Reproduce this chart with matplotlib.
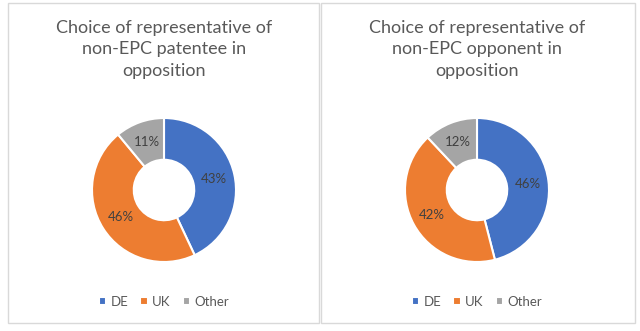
import matplotlib
matplotlib.use("Agg")
import matplotlib.pyplot as plt
from matplotlib.patches import Rectangle
import numpy as np

plt.rcParams['font.family'] = ['Lato', 'DejaVu Sans']

categories = ["DE", "UK", "Other"]
patentee = [43, 46, 11]
opponent = [46, 42, 12]
titles = ["Choice of representative of\nnon-EPC patentee in\nopposition",
          "Choice of representative of\nnon-EPC opponent in\nopposition"]
colors = ["#4472C4", "#ED7D31", "#A5A5A5"]

W, H = 640, 331
fig = plt.figure(figsize=(W / 100, H / 100), dpi=100)
fig.patch.set_facecolor("white")

# panel borders
for x0, x1 in [(8, 319), (321, 635)]:
    fig.patches.append(Rectangle((x0 / W, 1 - 323 / H), (x1 - x0) / W, 320 / H,
                                 transform=fig.transFigure, fill=False,
                                 edgecolor="#D9D9D9", lw=1))

centers = [(164, 190), (477, 190)]
R = 72
for (cx, cy), vals, title in zip(centers, [patentee, opponent], titles):
    ax = fig.add_axes([(cx - R) / W, 1 - (cy + R) / H, 2 * R / W, 2 * R / H])
    wedges, _ = ax.pie(vals, colors=colors, startangle=90, counterclock=False,
                       radius=1, wedgeprops=dict(width=0.58, edgecolor="white", linewidth=1.5))
    total = sum(vals)
    start = 90
    for v in vals:
        ang = np.deg2rad(start - v / total * 360 / 2)
        start -= v / total * 360
        r = 0.71
        ax.text(r * np.cos(ang), r * np.sin(ang), f"{v}%", ha="center", va="center",
                fontsize=9.5, color="#404040")
    ax.set_xlim(-1, 1)
    ax.set_ylim(-1, 1)
    ax.set_aspect("equal")
    ax.axis("off")
    fig.text(cx / W, 1 - 20 / H, title, ha="center", va="top", fontsize=13.0,
             color="#595959", linespacing=1.42)
    leg = fig.legend(wedges, categories, loc="center", bbox_to_anchor=(cx / W, 1 - 302 / H),
                     ncol=3, frameon=False, fontsize=9.5, handlelength=0.55, handleheight=0.55,
                     handletextpad=0.35, columnspacing=0.9, labelcolor="#595959")

fig.savefig("out.png", dpi=100, facecolor="white")
